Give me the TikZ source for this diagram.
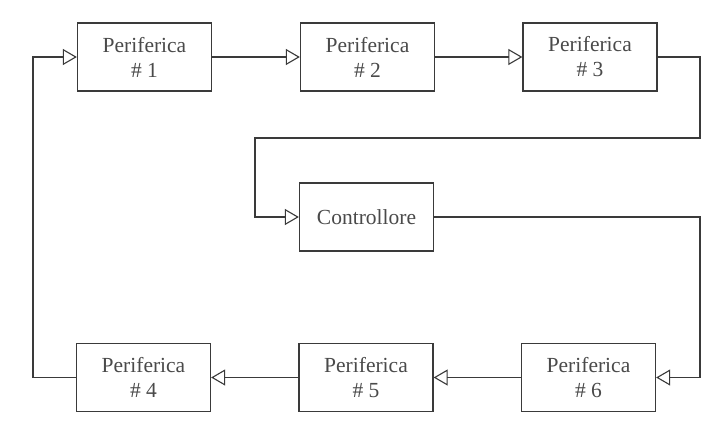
\documentclass[tikz,border=0pt]{standalone}
\usepackage{fontspec}
\setmainfont{Liberation Serif}
\usetikzlibrary{arrows.meta}
\definecolor{ln}{HTML}{3A3A3A}
\definecolor{tx}{HTML}{4A4A4A}
\begin{document}
\begin{tikzpicture}[x=1pt,y=-1pt,
  box/.style={draw=ln,line width=1.3pt,minimum width=134pt,minimum height=68pt,
    inner sep=0pt,align=center,text=tx,font=\fontsize{21.5}{25}\selectfont},
  conn/.style={draw=ln,line width=1.1pt,-{Triangle[open,length=14pt,width=16pt,line width=1.1pt]}}]
\useasboundingbox[fill=white] (0,0) rectangle (717,426);
\node[box] (p1) at (144.5,57) {Periferica\\\# 1};
\node[box] (p2) at (367.5,57) {Periferica\\\# 2};
\node[box] (p3) at (590,57) {Periferica\\\# 3};
\node[box] (c) at (366.5,217) {Controllore};
\node[box] (p4) at (143.5,377.5) {Periferica\\\# 4};
\node[box] (p5) at (366,377.5) {Periferica\\\# 5};
\node[box] (p6) at (588.5,377.5) {Periferica\\\# 6};
\coordinate (a1) at (700,57);
\coordinate (a2) at (700,138);
\coordinate (a3) at (255,138);
\coordinate (a4) at (255,217);
\coordinate (b1) at (700,217);
\coordinate (b2) at (700,377.5);
\coordinate (d1) at (33,377.5);
\coordinate (d2) at (33,57);
\draw[conn] (p1.east) -- (p2.west);
\draw[conn] (p2.east) -- (p3.west);
\draw[conn] (p3.east) -- (a1) -- (a2) -- (a3) -- (a4) -- (c.west);
\draw[conn] (c.east) -- (b1) -- (b2) -- (p6.east);
\draw[conn] (p6.west) -- (p5.east);
\draw[conn] (p5.west) -- (p4.east);
\draw[conn] (p4.west) -- (d1) -- (d2) -- (p1.west);
\end{tikzpicture}
\end{document}
